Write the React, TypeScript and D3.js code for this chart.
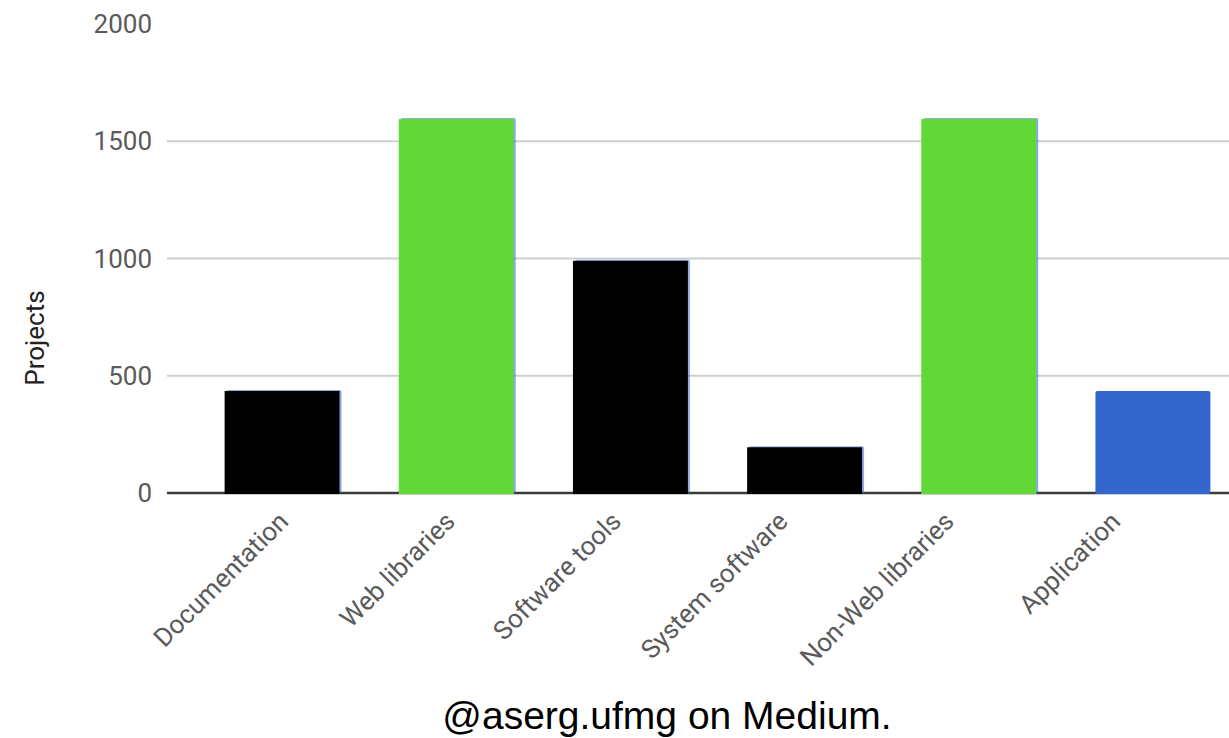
import React from "react";
import * as d3 from "d3";

const categories = [
  "Documentation",
  "Web libraries",
  "Software tools",
  "System software",
  "Non-Web libraries",
  "Application",
];
const projects = [435, 1595, 990, 195, 1595, 435];
const barColors = ["#000000", "#62d838", "#000000", "#000000", "#62d838", "#3366cc"];
const baseBarColor = "#3366cc";
const yTicks = [0, 500, 1000, 1500, 2000];
const gridTicks = [500, 1000, 1500];
const yTitle = "Projects";
const caption = "@aserg.ufmg on Medium.";

const W = 1229;
const H = 738;

export default function App() {
  const x = d3
    .scaleBand<string>()
    .domain(categories)
    .range([195, 1240])
    .paddingInner(0.34)
    .paddingOuter(0.17);
  const y = d3.scaleLinear().domain([0, 2000]).range([493, 24]);
  const labelPos = d3.scalePoint<string>().domain(categories).range([290, 1122]);
  const bw = x.bandwidth();
  const font = "Roboto, 'Noto Sans', sans-serif";

  return (
    <svg
      width={W}
      height={H}
      style={{ position: "absolute", left: 0, top: 0, background: "#fff" }}
    >
      <rect x={0} y={0} width={W} height={H} fill="#ffffff" />
      {gridTicks.map((t) => (
        <line
          key={"g" + t}
          x1={167}
          x2={W}
          y1={y(t)}
          y2={y(t)}
          stroke="#cfcfcf"
          strokeWidth={2}
        />
      ))}
      <line x1={167} x2={W} y1={y(0)} y2={y(0)} stroke="#3a3a3a" strokeWidth={2.6} />
      {yTicks.map((t) => (
        <text
          key={"t" + t}
          x={152}
          y={y(t)}
          textAnchor="end"
          dominantBaseline="central"
          fontFamily={font}
          fontSize={26}
          fill="#5a5a5a"
        >
          {t}
        </text>
      ))}
      <text
        transform={`translate(44,338) rotate(-90)`}
        textAnchor="middle"
        fontFamily={font}
        fontSize={26}
        fill="#222222"
      >
        {yTitle}
      </text>
      {categories.map((c, i) => {
        const bx = x(c)!;
        const by = y(projects[i]);
        const col = barColors[i];
        if (col === baseBarColor) {
          return (
            <rect
              key={c}
              x={bx}
              y={by}
              width={bw}
              height={y(0) - by + 1}
              rx={2}
              fill={col}
            />
          );
        }
        return (
          <g key={c}>
            <rect
              x={bx + 2}
              y={by - 1}
              width={bw}
              height={y(0) - by + 2}
              rx={2}
              fill={baseBarColor}
              opacity={0.55}
            />
            <rect x={bx} y={by} width={bw} height={y(0) - by + 1} fill={col} />
          </g>
        );
      })}
      {categories.map((c) => (
        <text
          key={"l" + c}
          transform={`translate(${labelPos(c)},523) rotate(-45)`}
          textAnchor="end"
          fontFamily={font}
          fontSize={26}
          fill="#5a5a5a"
        >
          {c}
        </text>
      ))}
      <text
        x={667}
        y={729}
        textAnchor="middle"
        fontFamily="'Liberation Sans', Arial, Helvetica, sans-serif"
        fontSize={39}
        fill="#000000"
      >
        {caption}
      </text>
    </svg>
  );
}
